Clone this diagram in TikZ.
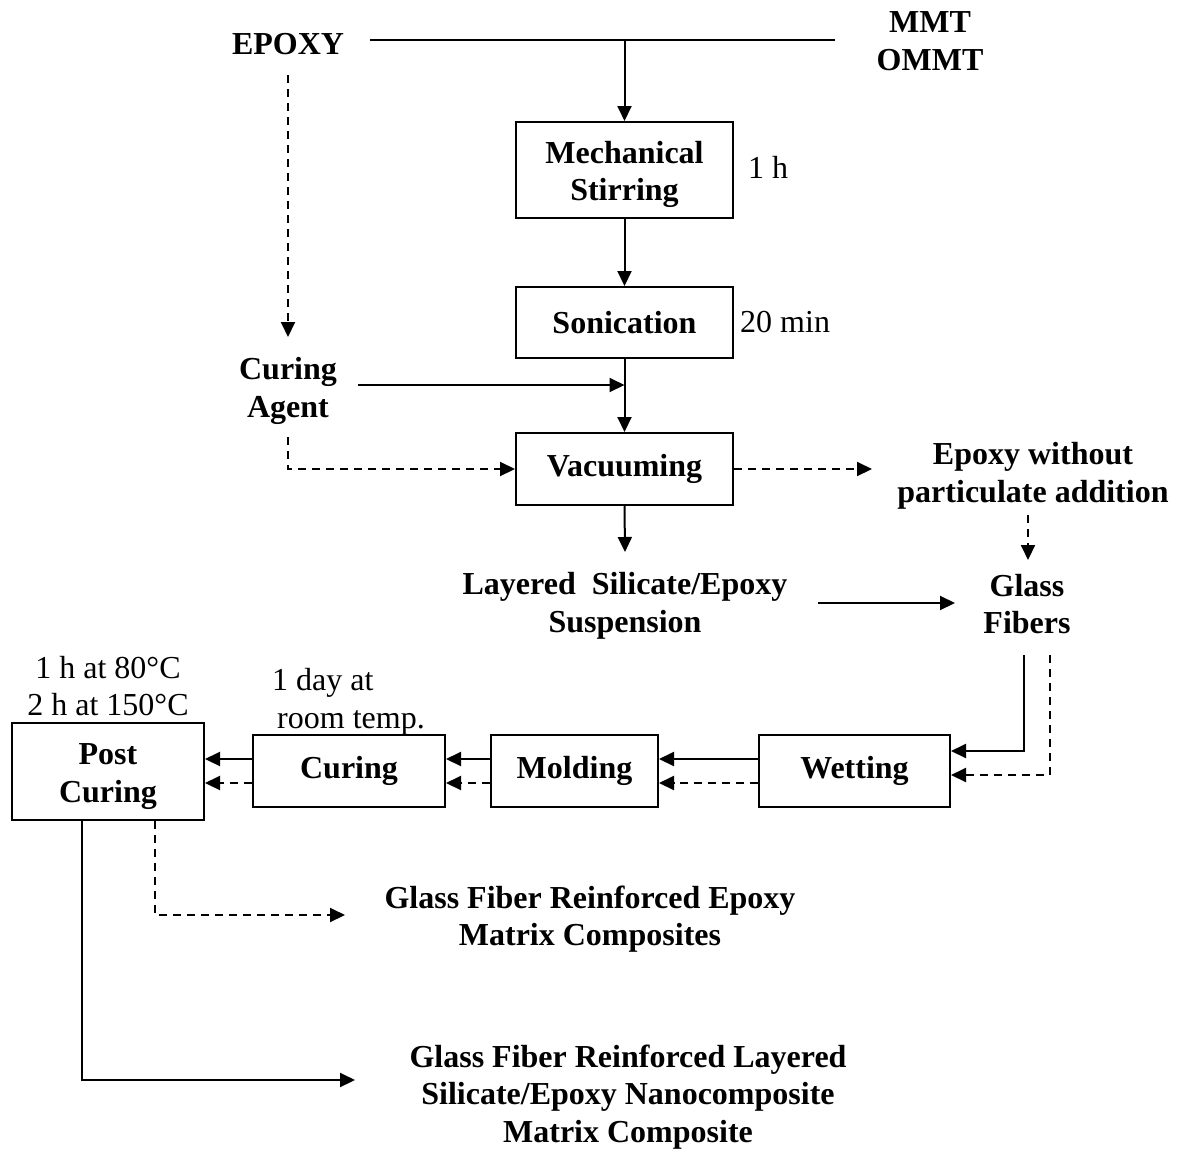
\documentclass[tikz,border=0pt]{standalone}
\usepackage{fontspec}
\setmainfont{Liberation Serif}
\usetikzlibrary{arrows.meta}
\newcommand{\topstrut}{\rule{0pt}{31pt}}
\begin{document}
\begin{tikzpicture}[x=1pt,y=-1pt,
  every node/.style={inner sep=0pt, align=center},
  lbl/.style={font=\fontsize{32}{37.5}\selectfont\bfseries},
  note/.style={font=\fontsize{32}{37.5}\selectfont},
  box/.style={draw, line width=2pt, lbl},
  ln/.style={line width=2pt},
  conn/.style={line width=2pt, -{Triangle[length=15pt,width=14pt]}},
  dconn/.style={conn, dash pattern=on 8pt off 6pt}]
\fill[white] (0,0) rectangle (1180,1148);
\useasboundingbox (0,0) rectangle (1180,1148);

% nodes
\node[lbl] (epoxy) at (288,44) {EPOXY};
\node[lbl] (mmt) at (930,41) {MMT\\OMMT};
\node[box, minimum width=217pt, minimum height=96pt] (mech) at (624.5,170) {\topstrut Mechanical\\Stirring};
\node[note, anchor=west] (t1h) at (748,167) {1 h};
\node[box, minimum width=217pt, minimum height=71pt] (son) at (624.5,322.5) {Sonication};
\node[note, anchor=west] (t20) at (740,322) {20 min};
\node[lbl] (agent) at (288,391) {Curing\\Agent};
\node[box, minimum width=217pt, minimum height=72pt] (vac) at (624.5,469) {Vacuuming};
\node[lbl] (ewo) at (1033,476) {Epoxy without\\particulate addition};
\node[lbl] (susp) at (625,606) {Layered\ \ Silicate/Epoxy\\Suspension};
\node[lbl] (gf) at (1027,604) {Glass\\Fibers};
\node[box, minimum width=191pt, minimum height=72pt] (wet) at (854.5,771) {Wetting};
\node[box, minimum width=167pt, minimum height=72pt] (mold) at (574.5,771) {Molding};
\node[box, minimum width=192pt, minimum height=72pt] (cur) at (349,771) {Curing};
\node[box, minimum width=192pt, minimum height=97pt] (post) at (108,771.5) {\topstrut Post\\Curing};
\node[note] (t80) at (108,686) {1 h at 80°C\\2 h at 150°C};
\node[note, align=left, anchor=west] (tday) at (272,702) {1 day at\\\hspace{5pt}room temp.};
\node[lbl] (gfre) at (590,919) {Glass Fiber Reinforced Epoxy\\Matrix Composites};
\node[lbl] (gfrl) at (628,1097) {Glass Fiber Reinforced Layered\\Silicate/Epoxy Nanocomposite\\Matrix Composite};

% coordinates
\coordinate (topL) at (370,40);
\coordinate (topR) at (835,40);
\coordinate (epd1) at (288,75);
\coordinate (epd2) at (288,337);
\coordinate (agR) at (358,385);
\coordinate (agD) at (288,437);
\coordinate (ewoL) at (872,469);
\coordinate (ewoB) at (1028,515);
\coordinate (gfT) at (1028,560);
\coordinate (suspT) at (625,552);
\coordinate (suspR) at (818,603);
\coordinate (gfL) at (955,603);
\coordinate (gfB1) at (1024,655);
\coordinate (gfB2) at (1050,655);
\coordinate (gfreL) at (345,915);
\coordinate (gfrlL) at (355,1080);

% connectors
\draw[ln] (topL) -- (topR);
\draw[conn] (mech.north |- topL) -- (mech.north);
\draw[conn] (mech.south) -- (son.north);
\draw[conn] (son.south) -- (vac.north);
\draw[conn] (agR) -- (agR -| son.south);
\draw[dconn] (epd1) -- (epd2);
\draw[dconn] (agD) |- (vac.west);
\draw[dconn] (vac.east) -- (ewoL);
\draw[dconn] (ewoB) -- (gfT);
\draw[conn] (vac.south) -- (suspT);
\draw[conn] (suspR) -- (gfL);
\draw[conn] (gfB1) |- ([yshift=20pt]wet.east);
\draw[dconn] (gfB2) |- ([yshift=-4pt]wet.east);
\draw[conn] ([yshift=12pt]wet.west) -- ([yshift=12pt]mold.east);
\draw[dconn] ([yshift=-12pt]wet.west) -- ([yshift=-12pt]mold.east);
\draw[conn] ([yshift=12pt]mold.west) -- ([yshift=12pt]cur.east);
\draw[dconn] ([yshift=-12pt]mold.west) -- ([yshift=-12pt]cur.east);
\draw[conn] ([yshift=12pt]cur.west) -- ([yshift=12.5pt]post.east);
\draw[dconn] ([yshift=-12pt]cur.west) -- ([yshift=-11.5pt]post.east);
\draw[conn] ([xshift=-26pt]post.south) |- (gfrlL);
\draw[dconn] ([xshift=47pt]post.south) |- (gfreL);
\end{tikzpicture}
\end{document}
